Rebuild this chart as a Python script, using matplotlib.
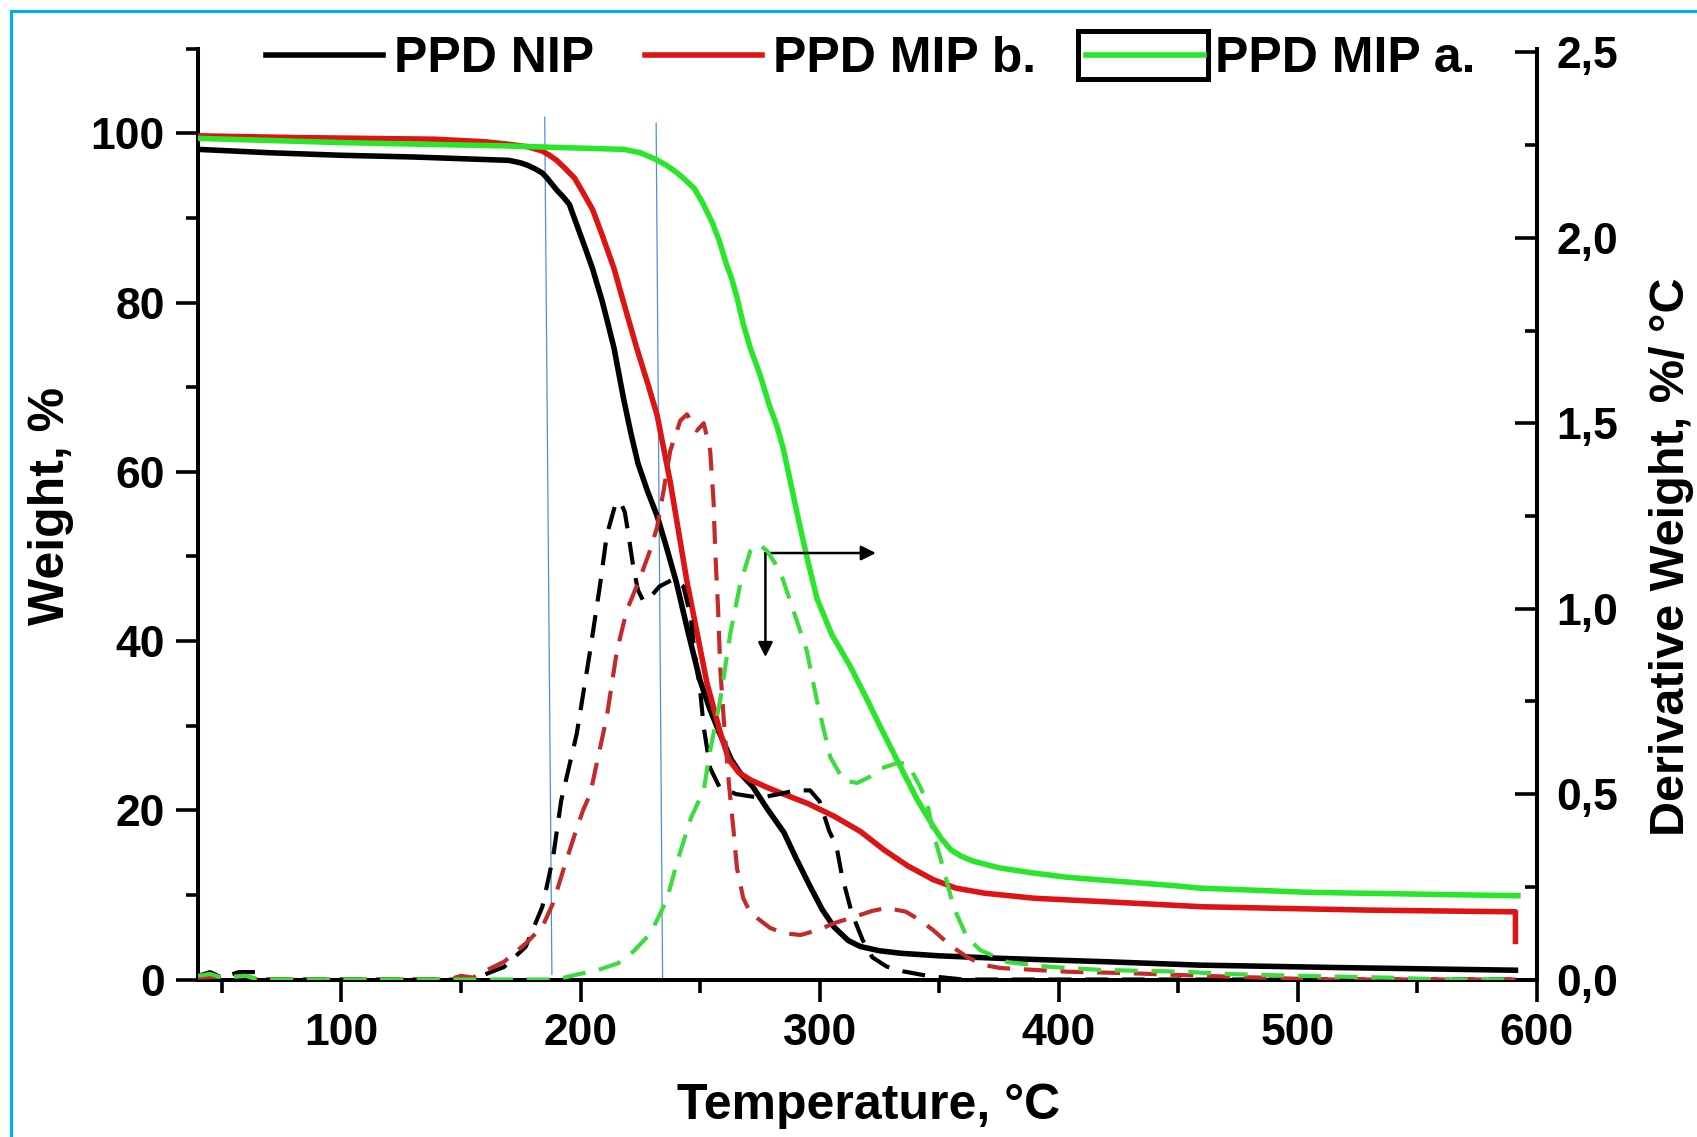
import matplotlib
matplotlib.use('Agg')
import matplotlib.pyplot as plt
from matplotlib.lines import Line2D
from matplotlib.patches import Rectangle
from matplotlib.ticker import MultipleLocator, FuncFormatter

plt.rcParams['font.family'] = ['Liberation Sans', 'DejaVu Sans']
plt.rcParams['font.weight'] = 'bold'

# --- data ---
labels = ['PPD NIP', 'PPD MIP b.', 'PPD MIP a.']

# TGA curves (left axis, weight %)
nip_t = [40, 70, 100, 130, 160, 170, 175, 178, 181, 184, 186, 188, 190, 193, 195.3, 198, 202,
         205, 209, 211, 214, 216, 218, 221, 224, 228, 232, 236, 240, 245, 250, 254, 258, 263,
         267, 272, 278, 285, 290, 296, 301, 306, 312, 317, 325, 334, 350, 376, 420, 459, 520, 591]
nip_w = [98.1, 97.7, 97.4, 97.2, 96.9, 96.8, 96.5, 96.2, 95.8, 95.3, 94.7, 94.0, 93.3, 92.4,
         91.6, 89.5, 86.4, 84, 80.2, 78, 74.6, 71.6, 68.6, 64.6, 61, 57.7, 54.8, 51, 47, 41,
         35.3, 32, 29.2, 26, 24.3, 22.8, 20.2, 17.4, 14.4, 11, 8.3, 6.2, 4.6, 3.9, 3.4, 3.1,
         2.8, 2.5, 2.1, 1.7, 1.4, 1.1]

mipb_t = [40, 80, 139, 160, 170, 178, 184, 187, 190, 193, 197.5, 201, 205, 209, 214, 218,
          223.5, 228, 232, 237.5, 244.5, 252.8, 258.4, 262, 266, 271, 278, 285, 295, 306, 317,
          327, 337, 347.5, 357, 369, 390, 426, 460, 494, 530, 591, 591]
mipb_w = [99.7, 99.5, 99.3, 99.0, 98.7, 98.4, 97.9, 97.4, 96.8, 96.0, 94.7, 93.0, 91.0, 88.0,
          84.0, 80.0, 74.6, 70.5, 66.7, 58.8, 47, 35.1, 29.2, 26, 24.5, 23.6, 22.7, 21.9, 20.8,
          19.3, 17.5, 15.3, 13.4, 11.8, 10.8, 10.2, 9.6, 9.1, 8.6, 8.4, 8.2, 8.0, 4.5]

mipa_t = [40, 100, 170, 218, 225, 231.6, 236, 240, 243, 247.5, 251, 255, 258, 261, 263,
          265.5, 268, 271, 275, 279, 282, 284.8, 288, 291, 295, 298.9, 305, 312.8, 319.8,
          326, 333.7, 340.7, 347.5, 351, 355, 359, 364, 375, 389, 403, 425, 448, 459, 505, 592]
mipa_w = [99.4, 98.9, 98.5, 98.1, 97.7, 96.9, 96.2, 95.4, 94.7, 93.5, 91.8, 89.5, 87.3, 84.5,
          83, 80.5, 77.5, 74.6, 71.5, 67.8, 65.5, 62.7, 58.5, 54.5, 49.5, 45, 40.8, 37, 33.1,
          29.5, 25.2, 21.3, 18.1, 16.6, 15.3, 14.6, 14.0, 13.2, 12.6, 12.1, 11.6, 11.1, 10.8,
          10.3, 9.9]

# DTG curves (right axis, %/°C)
nipd_t = [40, 45, 50, 57, 64, 68, 150, 158, 161.3, 168, 177, 184, 188.5, 191.9, 198.4, 204,
          208.2, 211, 214.5, 216.5, 218.5, 220, 222.1, 224, 226.3, 229, 233, 239, 243, 246,
          247.5, 250, 251.5, 254.2, 258, 265, 275, 283, 290, 296, 300, 304, 307, 309.3, 313.4,
          318, 322, 328, 335, 345, 360, 591]
nipd_d = [0.01, 0.02, 0.005, 0.02, 0.02, 0.0, 0.0, 0.008, 0.017, 0.034, 0.088, 0.196, 0.33,
          0.483, 0.663, 0.887, 1.067, 1.20, 1.28, 1.29, 1.26, 1.20, 1.11, 1.05, 1.02, 1.03,
          1.06, 1.08, 1.06, 0.98, 0.89, 0.78, 0.68, 0.57, 0.52, 0.50, 0.49, 0.50, 0.51, 0.51,
          0.48, 0.40, 0.36, 0.28, 0.18, 0.106, 0.06, 0.035, 0.022, 0.01, 0.0, 0.0]

mipbd_t = [40, 60, 65, 145, 150, 155, 161, 168, 177, 184, 188.5, 193, 197.5, 201, 204, 211,
           215.2, 219.3, 225, 229, 232, 234.7, 237.5, 241.7, 244.5, 248.6, 251.5, 254.2, 255.6,
           256.3, 257.5, 258.4, 259.8, 262, 264, 265.4, 268, 271, 275, 279.3, 285, 292, 300,
           306, 314, 322, 328, 336, 342, 347.5, 355, 361.6, 368, 375.6, 403.6, 430, 460, 485,
           510, 591]
mipbd_d = [0.005, 0.01, 0.0, 0.0, 0.01, 0.005, 0.026, 0.048, 0.097, 0.142, 0.206, 0.30, 0.39,
           0.456, 0.50, 0.71, 0.887, 0.995, 1.085, 1.156, 1.22, 1.318, 1.426, 1.507, 1.524,
           1.48, 1.50, 1.426, 1.29, 1.156, 1.0, 0.84, 0.708, 0.53, 0.40, 0.30, 0.22, 0.18,
           0.16, 0.139, 0.125, 0.12, 0.135, 0.152, 0.168, 0.185, 0.193, 0.183, 0.16, 0.133,
           0.09, 0.061, 0.04, 0.031, 0.021, 0.017, 0.01, 0.005, 0.0, 0.0]

mipad_t = [40, 45, 50, 60, 65, 190, 197.5, 207, 215.7, 222, 229.3, 236, 240.6, 246.3, 251.5,
           254.2, 258.4, 262.6, 266.8, 271, 274.4, 278, 283.5, 289, 294.6, 298.8, 304.4, 310,
           315.6, 320.5, 326, 333, 337, 342, 345, 347.5, 351.7, 356, 361.6, 367.2, 378.5,
           396.5, 417.4, 452, 470, 500, 539, 560, 591]
mipad_d = [0.01, 0.015, 0.005, 0.01, 0.0, 0.0, 0.012, 0.025, 0.044, 0.075, 0.125, 0.214,
           0.322, 0.438, 0.51, 0.618, 0.753, 0.933, 1.067, 1.156, 1.174, 1.156, 1.10, 0.995,
           0.887, 0.753, 0.60, 0.537, 0.53, 0.545, 0.57, 0.585, 0.58, 0.52, 0.475, 0.394,
           0.30, 0.195, 0.114, 0.079, 0.047, 0.034, 0.026, 0.021, 0.015, 0.01, 0.005, 0.0, 0.0]

# hand drawn onset markers and arrows
onset1_t, onset1_w = [185, 188], [101.9, 0.6]
onset2_t, onset2_w = [231.6, 234.3], [101.2, 0.0]
arrow_origin = (277.3, 50.4)
arrow_right = (323.5, 50.4)
arrow_down = (277.3, 38.1)

black = '#000000'
red = '#dc1414'
red_d = '#c42a2a'
green = '#2ae62a'
green_d = '#3cdc3c'
blue = '#4a8fe0'

fig = plt.figure(figsize=(16.97, 11.37), dpi=100)
ax = fig.add_axes([0.1167, 0.1385, 0.7890, 0.8187])
ax2 = ax.twinx()

# TGA (solid)
ax.plot(nip_t, nip_w, color=black, lw=4.0, zorder=3, solid_joinstyle='round')
ax.plot(mipb_t, mipb_w, color=red, lw=4.0, zorder=4, solid_joinstyle='round')
ax.plot(mipa_t, mipa_w, color=green, lw=4.0, zorder=5, solid_joinstyle='round')

# DTG (dashed)
ds = (5.5, 3.3)
ax2.plot(nipd_t, nipd_d, color=black, lw=3.0, dashes=ds)
ax2.plot(mipbd_t, mipbd_d, color=red_d, lw=3.0, dashes=ds)
ax2.plot(mipad_t, mipad_d, color=green_d, lw=3.0, dashes=ds)

ax.plot(onset1_t, onset1_w, color=blue, lw=0.9, zorder=2)
ax.plot(onset2_t, onset2_w, color=blue, lw=0.9, zorder=2)

arw = dict(arrowstyle='-|>', color='k', lw=1.8, mutation_scale=22, shrinkA=0, shrinkB=0)
ax.annotate('', xy=arrow_right, xytext=arrow_origin, arrowprops=arw, zorder=6)
ax.annotate('', xy=arrow_down, xytext=arrow_origin, arrowprops=arw, zorder=6)

ax.set_xlim(40, 600)
ax.set_ylim(0, 110)
ax2.set_ylim(0, 2.51)

ax.xaxis.set_major_locator(MultipleLocator(100))
ax.xaxis.set_minor_locator(MultipleLocator(50))
ax.yaxis.set_major_locator(MultipleLocator(20))
ax.yaxis.set_minor_locator(MultipleLocator(10))
ax2.yaxis.set_major_locator(MultipleLocator(0.5))
ax2.yaxis.set_minor_locator(MultipleLocator(0.25))
ax2.yaxis.set_major_formatter(FuncFormatter(lambda v, p: f'{v:.1f}'.replace('.', ',')))

for s in ['top', 'right']:
    ax.spines[s].set_visible(False)
for s in ['top', 'left', 'bottom']:
    ax2.spines[s].set_visible(False)
for s in ['left', 'bottom']:
    ax.spines[s].set_linewidth(2.9)
ax2.spines['right'].set_linewidth(2.9)

ax.tick_params(which='major', direction='out', length=16, width=2.6, labelsize=32, pad=8)
ax.tick_params(which='minor', direction='out', length=9, width=2.6)
ax2.tick_params(which='major', direction='in', length=16, width=2.6, labelsize=32, pad=14)
ax2.tick_params(which='minor', direction='in', length=9, width=2.6)
for lab in ax.get_xticklabels() + ax.get_yticklabels() + ax2.get_yticklabels():
    lab.set_fontweight('bold')

fig.text(0.030, 0.555, 'Weight, %', rotation=90, ha='center', va='center',
         fontsize=36, fontweight='bold')
fig.text(0.985, 0.51, 'Derivative Weight, %/ °C', rotation=90, ha='center', va='center',
         fontsize=35, fontweight='bold')
fig.text(0.512, 0.027, 'Temperature, °C', ha='center', va='center',
         fontsize=36, fontweight='bold')

handles = [Line2D([], [], color=c, lw=4.0) for c in (black, red, green)]
leg = fig.legend(handles, labels, loc='center', bbox_to_anchor=(0.513, 0.948), ncol=3,
                 frameon=False, prop={'size': 36, 'weight': 'bold'}, handlelength=2.35,
                 handletextpad=0.22, columnspacing=1.0)

# box around the third legend sample, as in the original
fig.canvas.draw()
r = fig.canvas.get_renderer()
bb = leg.legend_handles[2].get_window_extent(r)
W, H = fig.bbox.width, fig.bbox.height
yc = (bb.y0 + bb.y1) / 2
fig.patches.append(Rectangle(((bb.x0 - 8) / W, (yc - 24) / H), (bb.x1 - bb.x0 + 12) / W, 48 / H,
                             transform=fig.transFigure, fill=False, ec='k', lw=3.6))

# cyan frame of the screenshot
cyan = '#00aeef'
fig.add_artist(Line2D([0.0065, 1.0], [0.9903, 0.9903], transform=fig.transFigure, color=cyan, lw=2.2))
fig.add_artist(Line2D([0.0065, 0.0065], [0.0, 0.9903], transform=fig.transFigure, color=cyan, lw=2.2))

fig.savefig('out.png', dpi=100)
